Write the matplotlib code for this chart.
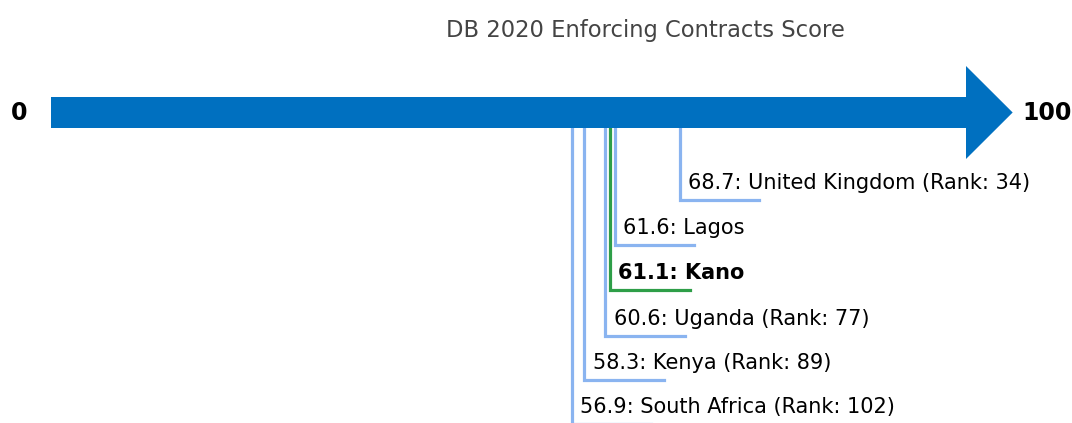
import matplotlib.pyplot as plt
from matplotlib.patches import Polygon

# scores, labels and which one gets highlighted
scores = [68.7, 61.6, 61.1, 60.6, 58.3, 56.9]
names = ["United Kingdom", "Lagos", "Kano", "Uganda", "Kenya", "South Africa"]
ranks = [34, None, None, 77, 89, 102]
highlight = "Kano"
levels = [200, 245, 290, 336, 380, 424]

ARROW_BLUE = "#0070c0"
LINE_BLUE = "#8ab4f0"
LINE_GREEN = "#2e9e48"

fig = plt.figure(figsize=(10.72, 4.23), dpi=100)
ax = fig.add_axes([0, 0, 1, 1])
px = 9.15  # pixels per score unit
ax.set_xlim(-51 / px, (1072 - 51) / px)
ax.set_ylim(423, 0)
ax.axis("off")

# big arrow from 0 to 100
arrow = Polygon([(0, 97), (100, 97), (100, 66), (105.1, 112.5),
                 (100, 159), (100, 128), (0, 128)],
                closed=True, facecolor=ARROW_BLUE, edgecolor="none", zorder=3)
ax.add_patch(arrow)
ax.text(-3.5, 112.5, "0", ha="center", va="center", fontsize=17, fontweight="bold")
ax.text(106.2, 112.5, "100", ha="left", va="center", fontsize=17, fontweight="bold")

ax.text(645 / px - 51 / px, 30, "DB 2020 Enforcing Contracts Score",
        ha="center", va="center", fontsize=16.3, color="#444444")

for s, n, r, y in zip(scores, names, ranks, levels):
    is_hl = n == highlight
    col = LINE_GREEN if is_hl else LINE_BLUE
    ax.plot([s, s, s + 8.7], [128, y, y], color=col, lw=2.3, zorder=2,
            solid_joinstyle="miter")
    label = f"{s}: {n}" if r is None else f"{s}: {n} (Rank: {r})"
    ax.text(s + 0.9, y - 17, label, ha="left", va="center", fontsize=15,
            fontweight="bold" if is_hl else "normal")

fig.savefig("out.png", dpi=100)
